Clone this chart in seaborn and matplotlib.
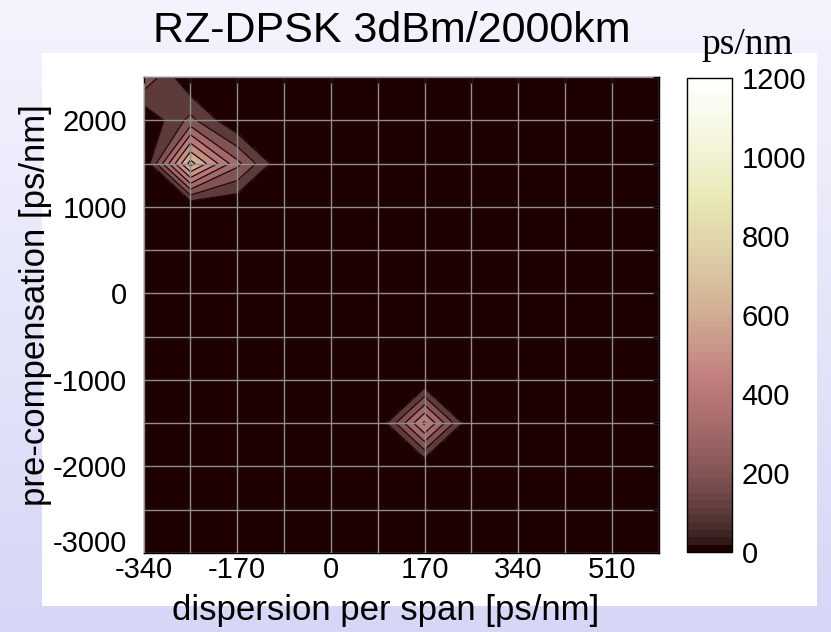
import numpy as np
import seaborn as sns
import matplotlib
matplotlib.use("Agg")
import matplotlib.pyplot as plt
from matplotlib.colors import Normalize, LinearSegmentedColormap
from matplotlib.patches import Rectangle
from matplotlib import font_manager
import matplotlib.transforms as mtransforms
import matplotlib.cm as cm

# ---------------- data ----------------
dispersion = [-340, -255, -170, -85, 0, 85, 170, 255, 340, 425, 510, 595]
precomp = [2500, 2000, 1500, 1000, 500, 0, -500, -1000, -1500, -2000, -2500, -3000]
# rows follow precomp (top to bottom), columns follow dispersion
penalty = [
    [290, 0,   0,   0, 0, 0, 0,   0, 0, 0, 0, 0],
    [0,   230, 0,   0, 0, 0, 0,   0, 0, 0, 0, 0],
    [0,   740, 330, 0, 0, 0, 0,   0, 0, 0, 0, 0],
    [0,   0,   0,   0, 0, 0, 0,   0, 0, 0, 0, 0],
    [0,   0,   0,   0, 0, 0, 0,   0, 0, 0, 0, 0],
    [0,   0,   0,   0, 0, 0, 0,   0, 0, 0, 0, 0],
    [0,   0,   0,   0, 0, 0, 0,   0, 0, 0, 0, 0],
    [0,   0,   0,   0, 0, 0, 0,   0, 0, 0, 0, 0],
    [0,   0,   0,   0, 0, 0, 520, 0, 0, 0, 0, 0],
    [0,   0,   0,   0, 0, 0, 0,   0, 0, 0, 0, 0],
    [0,   0,   0,   0, 0, 0, 0,   0, 0, 0, 0, 0],
    [0,   0,   0,   0, 0, 0, 0,   0, 0, 0, 0, 0],
]
contour_levels = [0, 100, 200, 300, 400, 500, 600, 700, 800, 900, 1000, 1100, 1200]
x_ticks = [-340, -255, -170, -85, 0, 85, 170, 255, 340, 425, 510, 595]
x_tick_labels = ["-340", "", "-170", "", "0", "", "170", "", "340", "", "510", ""]
y_ticks = [-3000, -2500, -2000, -1500, -1000, -500, 0, 500, 1000, 1500, 2000, 2500]
y_tick_labels = ["-3000", "", "-2000", "", "-1000", "", "0", "", "1000", "", "2000", ""]
cbar_ticks = [0, 200, 400, 600, 800, 1000, 1200]

title = "RZ-DPSK 3dBm/2000km"
xlabel = "dispersion per span [ps/nm]"
ylabel = "pre-compensation [ps/nm]"
cbar_unit = "ps/nm"

# ---------------- style ----------------
sns.set_style("white")
plt.rcParams['font.family'] = ['Liberation Sans', 'DejaVu Sans']
for k in ["text.color", "axes.labelcolor", "xtick.color", "ytick.color"]:
    plt.rcParams[k] = "black"

installed = {f.name for f in font_manager.fontManager.ttflist}
if "Liberation Sans Narrow" in installed:
    tick_family = ["Liberation Sans Narrow", "Liberation Sans"]
    tick_size = 24
else:
    tick_family = ["Liberation Sans", "DejaVu Sans"]
    tick_size = 21

W, H = 831, 632
fig = plt.figure(figsize=(W / 100, H / 100), dpi=100)

# slide-like background
bg = fig.add_axes([0, 0, 1, 1], zorder=-10)
bg_cmap = LinearSegmentedColormap.from_list("bg", ["#f4f4fe", "#d6d6f6"])
bg.imshow(np.linspace(0, 1, 256)[:, None], cmap=bg_cmap, aspect="auto",
          extent=[0, 1, 0, 1], transform=bg.transAxes)
bg.add_patch(Rectangle((42 / W, 1 - 606 / H), (817 - 42) / W, (606 - 53) / H,
                       transform=bg.transAxes, color="white", lw=0))
bg.set_xlim(0, 1); bg.set_ylim(0, 1)
bg.axis("off")

cmap = sns.color_palette("pink", as_cmap=True).resampled(64)
norm = Normalize(vmin=0, vmax=1200)
band_colors = [cmap(norm(l)) for l in contour_levels[:-1]]

ax = fig.add_axes([143.6 / W, 1 - 553 / H, (658.6 - 143.6) / W, (553 - 77) / H])
X, Y = np.meshgrid(dispersion, precomp)
Z = np.array(penalty, dtype=float)
ax.contourf(X, Y, Z, levels=contour_levels, colors=band_colors)
ax.contour(X, Y, Z, levels=contour_levels[1:-1], colors="#1c0606", linewidths=0.9)

ax.set_xlim(-340, 595)
ax.set_ylim(-3000, 2500)
ax.set_xticks(x_ticks)
ax.set_xticklabels(x_tick_labels, family=tick_family, fontsize=tick_size)
ax.set_yticks(y_ticks)
ax.set_yticklabels(y_tick_labels, family=tick_family, fontsize=tick_size)
ax.tick_params(axis="both", direction="in", length=4, width=0.8, color="black",
               top=True, right=True)
ax.tick_params(axis="x", pad=2)
ax.tick_params(axis="y", pad=12)
# the lowest y label sits a little higher, as in the original
lowest = ax.get_yticklabels()[0]
lowest.set_transform(lowest.get_transform() +
                     mtransforms.ScaledTranslation(0, 9 / 72, fig.dpi_scale_trans))
ax.set_axisbelow(False)
ax.grid(True, color="#8e8e8e", lw=1.0, ls="-")
for s in ax.spines.values():
    s.set_color("black")
    s.set_linewidth(1.0)

# colorbar
cax = fig.add_axes([687 / W, 1 - 552 / H, 45 / W, (552 - 78) / H])
sm = cm.ScalarMappable(norm=norm, cmap=cmap)
cb = fig.colorbar(sm, cax=cax, ticks=cbar_ticks)
cb.outline.set_edgecolor("black")
cb.outline.set_linewidth(1.0)
cax.tick_params(direction="in", length=5, width=0.8, pad=7, left=True, right=True,
                color="black")
cax.set_yticklabels([str(t) for t in cbar_ticks], family=tick_family, fontsize=tick_size)

# texts
fig.text(392 / W, 1 - 42 / H, title, ha="center", va="baseline", fontsize=31)
fig.text(747 / W, 1 - 54 / H, cbar_unit, ha="center", va="baseline", fontsize=27,
         family=["Liberation Serif", "DejaVu Serif"])
fig.text(386 / W, 1 - 620 / H, xlabel, ha="center", va="baseline", fontsize=25)
fig.text(36 / W, 1 - 305 / H, ylabel, ha="center", va="center", rotation=90, fontsize=25)

fig.savefig("out.png", dpi=100)
